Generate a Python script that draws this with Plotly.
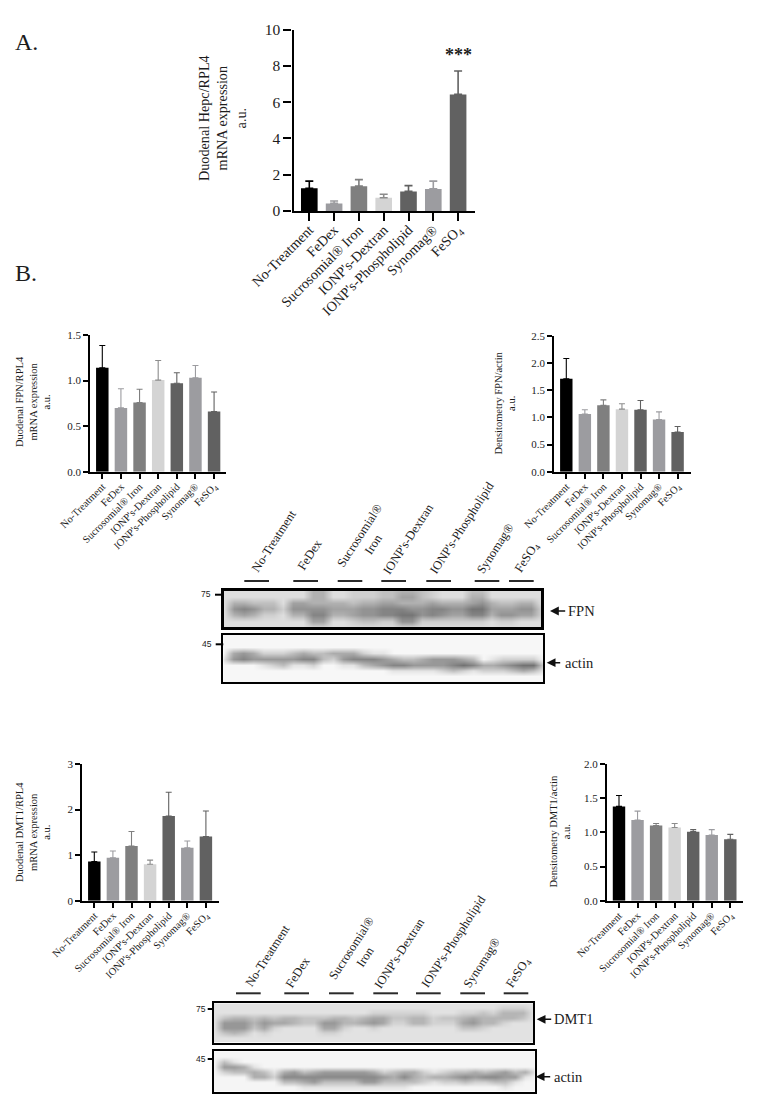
import plotly.graph_objects as go

W, H = 762, 1106
SERIF = "Liberation Serif"
INK = "#1c1c1c"

categories = ["No-Treatment", "FeDex", "Sucrosomial® Iron", "IONP's-Dextran",
              "IONP's-Phospholipid", "Synomag®", "FeSO<sub>4</sub>"]
bar_colors = ["#000000", "#9c9ca0", "#7f7f7f", "#d4d4d4", "#616161", "#9c9ca0", "#616161"]

hepc_values = [1.25, 0.42, 1.37, 0.73, 1.08, 1.22, 6.43]
hepc_tops = [1.65, 0.55, 1.73, 0.92, 1.40, 1.65, 7.72]
fpn_mrna_values = [1.14, 0.70, 0.76, 1.005, 0.97, 1.03, 0.66]
fpn_mrna_tops = [1.385, 0.91, 0.905, 1.22, 1.085, 1.165, 0.875]
fpn_dens_values = [1.71, 1.06, 1.22, 1.15, 1.14, 0.96, 0.73]
fpn_dens_tops = [2.08, 1.14, 1.32, 1.25, 1.31, 1.10, 0.83]
dmt_mrna_values = [0.86, 0.94, 1.20, 0.80, 1.86, 1.16, 1.41]
dmt_mrna_tops = [1.07, 1.09, 1.52, 0.89, 2.38, 1.31, 1.97]
dmt_dens_values = [1.38, 1.18, 1.10, 1.07, 1.01, 0.96, 0.90]
dmt_dens_tops = [1.54, 1.31, 1.13, 1.13, 1.04, 1.04, 0.97]

# Blot darkness, digit per cell (0 = background, 9 = darkest)
fpn_blot = [
    "000000000330011122332100022000000",
    "000000000330011122442100033000000",
    "033222044333323344333433345322330",
    "056533155554445566655665577444551",
    "034311033663345566775654466355441",
    "000000000440012211551111111011000",
    "000000000000000000000000000000000",
]
actin1_blot = [
    "000000000000000000000000000000000",
    "000000000000000000000000000000000",
    "000000000000000000000000000000000",
    "045422234334442110000000000000000",
    "156555556632566654334555430122220",
    "000012311200113456655556764456772",
    "000000000000000001111123212223431",
    "000000000000000000000000000000000",
    "000000000000000000000000000000000",
]
dmt1_blot = [
    "000000000000000000000000000000000",
    "000000000000000000000000000001110",
    "000000000000000011111100011213330",
    "023323233222332344223312234333320",
    "055535443225533454113311145331000",
    "055524100004410010000000022100000",
    "023201000001100000000000000000000",
    "000000000000000000000000000000000",
    "000000000000000000000000000000000",
]
actin2_blot = [
    "000000000000000000000000000000000",
    "000000000000000000000000000000000",
    "031000000000000000000000000000000",
    "055410000000000000000000000000000",
    "023343145345555542344212334345341",
    "000044266666666665464344565665510",
    "000000033453333553333212232233100",
    "000000000111111111110000000001000",
    "000000000000000000000000000000000",
]

lane_labels_fpn = ["No-Treatment", "FeDex", "Sucrosomial®<br>Iron", "IONP's-Dextran",
                   "IONP's-Phospholipid", "Synomag®", "FeSO<sub>4</sub>"]


def fx(x):
    return x / W


def fy(y):
    return 1 - y / H


fig = go.Figure()
annotations = []
shapes = []
layout = {}


def label(x, y, text, size=10.5, angle=0, xanchor="center", yanchor="middle",
          family=SERIF, color=INK, bold=False):
    annotations.append(dict(
        x=fx(x), y=fy(y), xref="paper", yref="paper", text=f"<b>{text}</b>" if bold else text,
        showarrow=False, textangle=angle, xanchor=xanchor, yanchor=yanchor,
        font=dict(family=family, size=size, color=color), borderpad=0, borderwidth=0,
    ))


def line(x0, y0, x1, y1, width=2, color="#2a2a2a"):
    shapes.append(dict(type="line", xref="paper", yref="paper", x0=fx(x0), x1=fx(x1),
                       y0=fy(y0), y1=fy(y1), line=dict(color=color, width=width)))


def arrow(x_head, x_tail, y):
    annotations.append(dict(
        x=fx(x_head), y=fy(y), xref="paper", yref="paper", text="", showarrow=True,
        ax=x_tail - x_head, ay=0, arrowhead=2, arrowsize=1.1, arrowwidth=1.6,
        arrowcolor="#111111", standoff=0,
    ))


def bars(idx, values, tops, x_axis, x_first, spacing, x_end, y_top, y_zero, ymax, dtick,
         tickfmt, tick_size, xtick_size, lw, ticklen, cap, err_w, xstand):
    xname = "x" if idx == 1 else f"x{idx}"
    yname = "y" if idx == 1 else f"y{idx}"
    for cat, v, t, c in zip(categories, values, tops, bar_colors):
        fig.add_trace(go.Bar(
            x=[cat], y=[v], xaxis=xname, yaxis=yname, width=0.67, showlegend=False,
            marker=dict(color=c, line=dict(width=0)),
            error_y=dict(type="data", symmetric=False, array=[t - v], arrayminus=[0],
                         color=c if c != "#d4d4d4" else "#8c8c8c",
                         thickness=err_w, width=cap),
        ))
    suffix = "" if idx == 1 else str(idx)
    axis_common = dict(showline=True, linecolor="#000000", linewidth=lw, ticks="outside",
                       tickwidth=lw, ticklen=ticklen, tickcolor="#000000", showgrid=False,
                       zeroline=False)
    layout[f"xaxis{suffix}"] = dict(
        axis_common, domain=[fx(x_axis), fx(x_end)], anchor=yname, type="category",
        categoryorder="array", categoryarray=categories, tickangle=-45, tickvals=categories,
        range=[-(x_first - x_axis) / spacing, (x_end - x_first) / spacing],
        tickfont=dict(family=SERIF, size=xtick_size, color=INK), ticklabelstandoff=xstand,
    )
    layout[f"yaxis{suffix}"] = dict(
        axis_common, domain=[fy(y_zero), fy(y_top)], anchor=xname, range=[0, ymax],
        dtick=dtick, tickformat=tickfmt, tickfont=dict(family=SERIF, size=tick_size, color=INK),
    )


bars(1, hepc_values, hepc_tops, 293.5, 309.3, 24.8, 475, 29.7, 211, 10, 2, "d", 15.5, 14.2, 2.2, 8, 4, 1.6, -5)
bars(2, fpn_mrna_values, fpn_mrna_tops, 90, 102.3, 18.63, 226, 335, 471.7, 1.5, 0.5, ".1f", 11, 10.4, 1.6, 5, 3, 1.1, -2)
bars(3, fpn_dens_values, fpn_dens_tops, 554, 566.3, 18.55, 691, 335.7, 471.7, 2.5, 0.5, ".1f", 11, 10.4, 1.6, 5, 3, 1.1, -2)
bars(4, dmt_mrna_values, dmt_mrna_tops, 82, 94.3, 18.6, 219, 764, 900.7, 3, 1, "d", 11, 10.4, 1.6, 5, 3, 1.1, -2)
bars(5, dmt_dens_values, dmt_dens_tops, 606.7, 619, 18.55, 743, 764, 900.7, 2.0, 0.5, ".1f", 11, 10.4, 1.6, 5, 3, 1.1, -2)


def blot(idx, rows, x0, x1, y0, y1, base, slope, frame):
    z = [[int(ch) for ch in row] for row in rows]
    steps = [max(0, base - slope * i) for i in range(10)]
    scale = [[i / 9, f"rgb({s},{s},{s})"] for i, s in enumerate(steps)]
    xname, yname = f"x{idx}", f"y{idx}"
    fig.add_trace(go.Heatmap(z=z, xaxis=xname, yaxis=yname, zmin=0, zmax=9, zsmooth="best",
                             colorscale=scale, showscale=False, hoverinfo="skip"))
    common = dict(showline=True, mirror=True, linecolor="#000000", linewidth=frame, ticks="",
                  showticklabels=False, showgrid=False, zeroline=False)
    layout[f"xaxis{idx}"] = dict(common, domain=[fx(x0), fx(x1)], anchor=yname,
                                 range=[0, len(rows[0]) - 1])
    layout[f"yaxis{idx}"] = dict(common, domain=[fy(y1), fy(y0)], anchor=xname,
                                 range=[len(rows) - 1, 0])


blot(6, fpn_blot, 224, 541, 590.7, 627.3, 222, 15, 3)
blot(7, actin1_blot, 223.3, 543.3, 635, 682.3, 247, 19, 2)
blot(8, dmt1_blot, 214, 533, 1003.3, 1042.7, 226, 15, 2)
blot(9, actin2_blot, 214, 534.7, 1051.3, 1091.7, 245, 18, 2)

# Panel letters and y titles
label(15, 42, "A.", size=24, xanchor="left")
label(15, 273, "B.", size=24, xanchor="left")
label(458, 55, "***", size=18, bold=True)
label(222, 118, "Duodenal Hepc/RPL4<br>mRNA expression<br>a.u.", size=14.2, angle=-90)
label(33, 402, "Duodenal FPN/RPL4<br>mRNA expression<br>a.u.", angle=-90)
label(504.5, 403, "Densitometry FPN/actin<br>a.u.", angle=-90)
label(33, 832, "Duodenal DMT1/RPL4<br>mRNA expression<br>a.u.", angle=-90)
label(559.5, 832, "Densitometry DMT1/actin<br>a.u.", angle=-90)

# Lane headers above the blots
for (a, b), (lx, ly), text in zip(
    [(244.3, 269), (293.3, 318), (337.7, 362.3), (381.3, 406), (426.3, 451), (474.7, 499.3), (509, 533.7)],
    [(249, 575), (294.5, 573), (334, 578), (380.5, 577), (427, 577), (474.5, 576), (511.5, 576)],
    lane_labels_fpn,
):
    line(a, 581, b, 581)
    label(lx, ly, text, size=12.5, angle=-57, xanchor="left", yanchor="bottom")

for (a, b), (lx, ly), text in zip(
    [(236, 260.7), (284.3, 309), (329, 353.7), (373.3, 398), (416, 440.7), (460.3, 485), (503.7, 528.3)],
    [(242, 989.3), (283, 990.3), (325.5, 991), (372, 991), (418, 990.3), (460, 990.3), (503, 991)],
    lane_labels_fpn,
):
    line(a, 993.3, b, 993.3)
    label(lx, ly, text, size=12.5, angle=-57, xanchor="left", yanchor="bottom")

# Marker sizes and band names
for tx, ty, x0, x1, text in [
    (205.7, 594.7, 215, 224, "75"), (206.7, 644.3, 215.7, 223.3, "45"),
    (201, 1009, 207.7, 214, "75"), (201, 1059, 207.7, 214, "45"),
]:
    line(x0, ty, x1, ty, width=2, color="#000000")
    label(tx, ty - 0.5, text, size=8.5, family="Liberation Sans")

for x_head, x_tail, y, tx, text in [
    (550, 566.7, 611, 568, "FPN"), (546.7, 561.7, 662.7, 565, "actin"),
    (536.7, 552.7, 1019.3, 554, "DMT1"), (535.7, 551.7, 1076.7, 554, "actin"),
]:
    arrow(x_head, x_tail, y)
    label(tx, y, text, size=14.5, xanchor="left")

fig.update_layout(
    width=W, height=H, margin=dict(l=0, r=0, t=0, b=0, autoexpand=False), autosize=False,
    paper_bgcolor="white", plot_bgcolor="rgba(0,0,0,0)", barmode="overlay", showlegend=False,
    annotations=annotations, shapes=shapes, font=dict(family=SERIF),
    **layout,
)

fig.write_html("out.html", config={"displayModeBar": False},
               post_script="document.body.style.margin='0';document.body.style.overflow='hidden';")
